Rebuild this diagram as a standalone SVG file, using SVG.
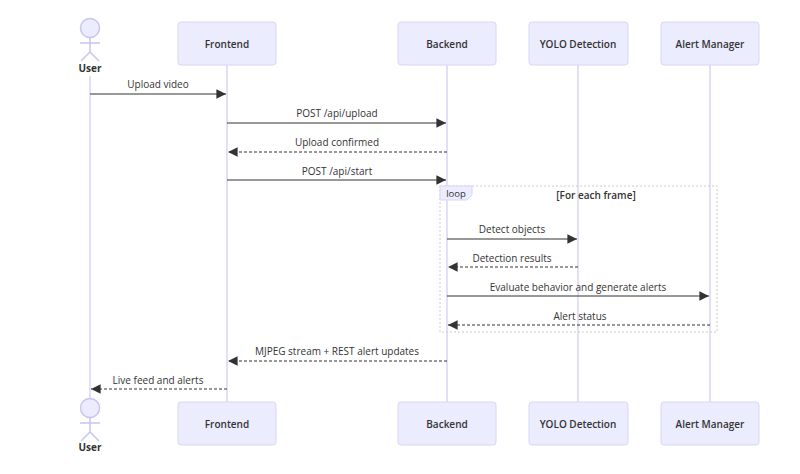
<svg xmlns="http://www.w3.org/2000/svg" width="800" height="474" viewBox="0 0 800 474">
<style>
text{font-family:"Open Sans","DejaVu Sans",sans-serif;font-size:10px;fill:#333;text-anchor:middle}
.box{fill:#ECECFF;stroke:#d9d6f5;stroke-width:1}
.life{stroke:#d9d6f5;stroke-width:1.5}
.msg{stroke:#333;stroke-width:1.2;fill:none}
.dash{stroke-dasharray:3,2}
.actor{fill:#ECECFF;stroke:#c9c4ee;stroke-width:1.5}
.lb{font-weight:bold}
.bx{font-weight:600}
</style>
<defs>
<marker id="ah" viewBox="0 0 10 10" refX="10" refY="5" markerWidth="8" markerHeight="8" orient="auto-start-reverse"><path d="M0,0L10,5L0,10z" fill="#333"/></marker>
</defs>
<g id="lifelines">
<line class="life" x1="90" y1="76" x2="90" y2="398"/>
<line class="life" x1="227" y1="65" x2="227" y2="402"/>
<line class="life" x1="447" y1="65" x2="447" y2="402"/>
<line class="life" x1="578" y1="65" x2="578" y2="402"/>
<line class="life" x1="710" y1="65" x2="710" y2="402"/>
</g>
<g id="user-top"><circle class="actor" cx="90" cy="28" r="9.5"/><path class="actor" d="M90,37.5V52M80,43H100M90,52L81,61M90,52L99,61" fill="none"/><text class="lb" x="90" y="72">User</text></g>
<g id="user-bottom"><circle class="actor" cx="90" cy="408" r="9.5"/><path class="actor" d="M90,417.5V432M80,423H100M90,432L81,441M90,432L99,441" fill="none"/><text class="lb" x="90" y="451">User</text></g>
<g id="frontend-top"><rect class="box" x="178" y="22" width="98" height="43" rx="3"/><text class="bx" x="227" y="48">Frontend</text></g>
<g id="backend-top"><rect class="box" x="398" y="22" width="98" height="43" rx="3"/><text class="bx" x="447" y="48">Backend</text></g>
<g id="yolo-top"><rect class="box" x="529" y="22" width="99" height="43" rx="3"/><text class="bx" x="578" y="48">YOLO Detection</text></g>
<g id="alert-top"><rect class="box" x="661" y="22" width="98" height="43" rx="3"/><text class="bx" x="710" y="48">Alert Manager</text></g>
<g id="frontend-bottom"><rect class="box" x="178" y="402" width="98" height="43" rx="3"/><text class="bx" x="227" y="428">Frontend</text></g>
<g id="backend-bottom"><rect class="box" x="398" y="402" width="98" height="43" rx="3"/><text class="bx" x="447" y="428">Backend</text></g>
<g id="yolo-bottom"><rect class="box" x="529" y="402" width="99" height="43" rx="3"/><text class="bx" x="578" y="428">YOLO Detection</text></g>
<g id="alert-bottom"><rect class="box" x="661" y="402" width="98" height="43" rx="3"/><text class="bx" x="710" y="428">Alert Manager</text></g>
<g id="loop">
<rect x="440" y="186" width="277" height="146" fill="none" stroke="#ccc" stroke-dasharray="2,2"/>
<path d="M440,186H472V195L467,200H440Z" fill="#ECECFF" stroke="#d9d6f5"/>
<text x="456" y="197" style="font-size:9.5px">loop</text>
<text class="bx" x="596" y="199">[For each frame]</text>
</g>
<g id="connectors">
<line class="msg" x1="90" y1="94" x2="226" y2="94" marker-end="url(#ah)"/><text x="158" y="88">Upload video</text>
<line class="msg" x1="227" y1="123" x2="446" y2="123" marker-end="url(#ah)"/><text x="337" y="117">POST /api/upload</text>
<line class="msg dash" x1="447" y1="152" x2="228" y2="152" marker-end="url(#ah)"/><text x="337" y="146">Upload confirmed</text>
<line class="msg" x1="227" y1="180" x2="446" y2="180" marker-end="url(#ah)"/><text x="337" y="175">POST /api/start</text>
<line class="msg" x1="447" y1="239" x2="577" y2="239" marker-end="url(#ah)"/><text x="512" y="233">Detect objects</text>
<line class="msg dash" x1="578" y1="267" x2="448" y2="267" marker-end="url(#ah)"/><text x="512" y="262">Detection results</text>
<line class="msg" x1="447" y1="296" x2="709" y2="296" marker-end="url(#ah)"/><text x="578" y="291">Evaluate behavior and generate alerts</text>
<line class="msg dash" x1="710" y1="325" x2="448" y2="325" marker-end="url(#ah)"/><text x="580" y="320">Alert status</text>
<line class="msg dash" x1="447" y1="361" x2="228" y2="361" marker-end="url(#ah)"/><text x="337" y="355">MJPEG stream + REST alert updates</text>
<line class="msg dash" x1="227" y1="389" x2="91" y2="389" marker-end="url(#ah)"/><text x="158" y="384">Live feed and alerts</text>
</g>
</svg>
